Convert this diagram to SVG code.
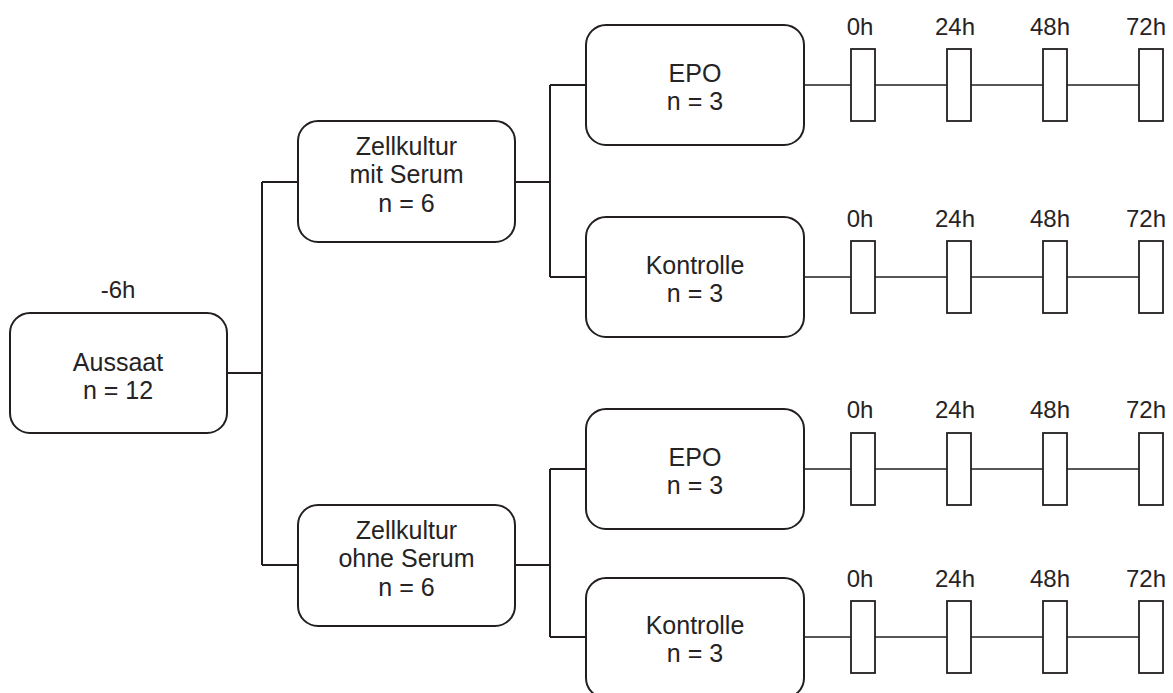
<svg xmlns="http://www.w3.org/2000/svg" width="1173" height="693" viewBox="0 0 1173 693">
<style>
.box{fill:#fff;stroke:#231f20;stroke-width:2}
.tp{fill:#fff;stroke:#231f20;stroke-width:1.8}
.c{fill:none;stroke:#231f20;stroke-width:2}
.t{fill:none;stroke:#231f20;stroke-width:1.6}
text{font-family:"Liberation Sans",Arial,sans-serif;font-size:25px;fill:#262324;text-anchor:middle}
text.h{font-size:24px}
</style>
<rect width="1173" height="693" fill="#fff"/>
<g id="connectors">
<path class="c" d="M227 373H262M262 182V565M262 182H298M262 565H298"/>
<path class="c" d="M515 182H550M550 85V277M550 85H586M550 277H586"/>
<path class="c" d="M515 565H550M550 469V637M550 469H586M550 637H586"/>
<path class="t" d="M804 85H1139M804 277H1139M804 469H1139M804 637H1139"/>
</g>
<g id="aussaat">
<text class="h" x="118" y="298">-6h</text>
<rect class="box" x="10" y="313" width="217" height="120" rx="20"/>
<text x="118" y="371">Aussaat</text>
<text x="118" y="399">n = 12</text>
</g>
<g id="zk-mit">
<rect class="box" x="298" y="121" width="217" height="121" rx="20"/>
<text x="406.5" y="155">Zellkultur</text>
<text x="406.5" y="183">mit Serum</text>
<text x="406.5" y="212">n = 6</text>
</g>
<g id="zk-ohne">
<rect class="box" x="298" y="505" width="217" height="121" rx="20"/>
<text x="406.5" y="539">Zellkultur</text>
<text x="406.5" y="567">ohne Serum</text>
<text x="406.5" y="596">n = 6</text>
</g>
<g id="epo1">
<rect class="box" x="586" y="25" width="218" height="120" rx="20"/>
<text x="695" y="82">EPO</text>
<text x="695" y="110">n = 3</text>
</g>
<g id="kontrolle1">
<rect class="box" x="586" y="217" width="218" height="120" rx="20"/>
<text x="695" y="274">Kontrolle</text>
<text x="695" y="302">n = 3</text>
</g>
<g id="epo2">
<rect class="box" x="586" y="409" width="218" height="120" rx="20"/>
<text x="695" y="466">EPO</text>
<text x="695" y="494">n = 3</text>
</g>
<g id="kontrolle2">
<rect class="box" x="586" y="578" width="218" height="120" rx="20"/>
<text x="695" y="634">Kontrolle</text>
<text x="695" y="662">n = 3</text>
</g>
<g id="times1">
<rect class="tp" x="851" y="49" width="24" height="72"/><text class="h" x="860" y="35">0h</text>
<rect class="tp" x="947" y="49" width="24" height="72"/><text class="h" x="955" y="35">24h</text>
<rect class="tp" x="1043" y="49" width="24" height="72"/><text class="h" x="1050" y="35">48h</text>
<rect class="tp" x="1139" y="49" width="24" height="72"/><text class="h" x="1146" y="35">72h</text>
</g>
<g id="times2">
<rect class="tp" x="851" y="241" width="24" height="72"/><text class="h" x="860" y="227">0h</text>
<rect class="tp" x="947" y="241" width="24" height="72"/><text class="h" x="955" y="227">24h</text>
<rect class="tp" x="1043" y="241" width="24" height="72"/><text class="h" x="1050" y="227">48h</text>
<rect class="tp" x="1139" y="241" width="24" height="72"/><text class="h" x="1146" y="227">72h</text>
</g>
<g id="times3">
<rect class="tp" x="851" y="433" width="24" height="72"/><text class="h" x="860" y="418">0h</text>
<rect class="tp" x="947" y="433" width="24" height="72"/><text class="h" x="955" y="418">24h</text>
<rect class="tp" x="1043" y="433" width="24" height="72"/><text class="h" x="1050" y="418">48h</text>
<rect class="tp" x="1139" y="433" width="24" height="72"/><text class="h" x="1146" y="418">72h</text>
</g>
<g id="times4">
<rect class="tp" x="851" y="601" width="24" height="72"/><text class="h" x="860" y="587">0h</text>
<rect class="tp" x="947" y="601" width="24" height="72"/><text class="h" x="955" y="587">24h</text>
<rect class="tp" x="1043" y="601" width="24" height="72"/><text class="h" x="1050" y="587">48h</text>
<rect class="tp" x="1139" y="601" width="24" height="72"/><text class="h" x="1146" y="587">72h</text>
</g>
</svg>
